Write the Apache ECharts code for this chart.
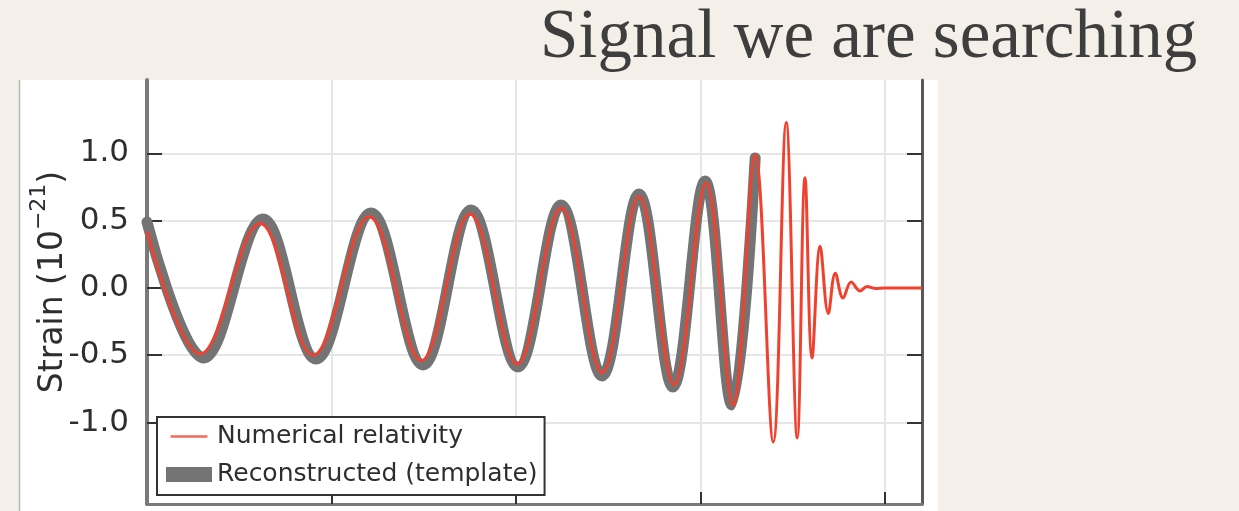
<!DOCTYPE html>
<html>
<head>
<meta charset="utf-8">
<script src="https://cdn.jsdelivr.net/npm/echarts@6/dist/echarts.min.js"></script>
<style>
html,body{margin:0;padding:0;background:#f4f0e9;}
#chart{width:1239px;height:511px;}
</style>
</head>
<body>
<div id="chart"></div>
<script>
// Turning points of the waveforms: time (s), strain (1e-21)
const nrTime = [0.2500, 0.2644, 0.2806, 0.2950, 0.3102, 0.3243, 0.3375, 0.3503, 0.3622, 0.3733,
  0.3833, 0.3928, 0.4015, 0.4088, 0.4148, 0.4197, 0.4232, 0.4262, 0.4283, 0.4302,
  0.4324, 0.4346, 0.4365, 0.4386, 0.4408, 0.4432, 0.4451, 0.4473, 0.4500, 0.4600];
const nrStrain = [0.42, -0.49, 0.48, -0.50, 0.53, -0.54, 0.55, -0.565, 0.595, -0.63,
  0.68, -0.72, 0.78, -0.87, 0.99, -1.145, 1.23, -1.115, 0.82, -0.52,
  0.31, -0.19, 0.11, -0.075, 0.045, -0.022, 0.011, -0.004, 0, 0];

const tplTime = [0.2500, 0.2654, 0.2814, 0.2958, 0.3107, 0.3248, 0.3378, 0.3505, 0.3622, 0.3733,
  0.3833, 0.3925, 0.4012, 0.4085, 0.4148];
const tplStrain = [0.49, -0.52, 0.513, -0.528, 0.558, -0.572, 0.58, -0.587, 0.617, -0.654,
  0.699, -0.736, 0.796, -0.87, 0.967];

const yTicks = [-1.0, -0.5, 0.0, 0.5, 1.0];
const xTicks = [0.30, 0.35, 0.40, 0.45];
const seriesNames = ['Numerical relativity', 'Reconstructed (template)'];

const zip = (a, b) => a.map((t, i) => [t, b[i]]);

const chart = echarts.init(document.getElementById('chart'));
chart.setOption({
  backgroundColor: '#f4f0e9',
  animation: false,
  title: {
    text: 'Signal we are searching',
    left: 535, top: -1,
    textStyle: {fontFamily: 'Liberation Serif', fontSize: 69, fontWeight: 'normal', color: '#3e3e3e'}
  },
  graphic: [
    {type: 'rect', z: -10, silent: true, shape: {x: 20, y: 80, width: 918, height: 431}, style: {fill: '#ffffff'}},
    {type: 'line', z: -9, silent: true, shape: {x1: 19.5, y1: 80, x2: 19.5, y2: 511}, style: {stroke: '#b8b8b8', lineWidth: 1.5}}
  ],
  grid: {left: 147, right: 317, top: 80, bottom: 7, containLabel: false},
  legend: {
    orient: 'vertical',
    left: 157, top: 417,
    padding: [7, 7, 8, 9],
    itemGap: 13,
    itemWidth: 46, itemHeight: 15,
    backgroundColor: '#ffffff',
    borderColor: '#333333', borderWidth: 2, borderRadius: 0,
    textStyle: {fontFamily: 'DejaVu Sans', fontSize: 25, color: '#2e2e2e'},
    data: [
      {name: seriesNames[0], icon: 'path://M0,0M4.5,6.2h37v2.6h-37zM46,15', itemStyle: {color: '#f46a59'}},
      {name: seriesNames[1], icon: 'rect'}
    ]
  },
  xAxis: {
    type: 'value', min: 0.25, max: 0.46,
    axisLine: {show: true, onZero: false, lineStyle: {color: '#7a7a7a', width: 3}},
    axisTick: {show: true, inside: true, length: 12, customValues: xTicks, lineStyle: {color: '#333', width: 2}},
    axisLabel: {show: false, customValues: xTicks},
    splitLine: {show: true, lineStyle: {color: '#e6e6e6', width: 2}}
  },
  yAxis: [
    {
      type: 'value', min: -1.606, max: 1.546, position: 'left',
      name: '{a|Strain (10}{s|−21}{a|)}',
      nameLocation: 'middle', nameRotate: 90, nameGap: 77,
      nameMoveOverlap: false,
      nameTextStyle: {
        padding: [0, 0, 0, 20],
        rich: {
          a: {fontFamily: 'DejaVu Sans', fontSize: 33, color: '#2e2e2e', lineHeight: 42, verticalAlign: 'bottom'},
          s: {fontFamily: 'DejaVu Sans', fontSize: 22, color: '#2e2e2e', lineHeight: 42, verticalAlign: 'top'}
        }
      },
      axisLine: {show: true, onZero: false, lineStyle: {color: '#7a7a7a', width: 4}},
      axisTick: {show: true, inside: true, length: 15, customValues: yTicks, lineStyle: {color: '#333', width: 2}},
      axisLabel: {
        customValues: yTicks, margin: 18,
        fontFamily: 'DejaVu Sans', fontSize: 31, color: '#2e2e2e',
        formatter: v => v.toFixed(1)
      },
      splitLine: {show: true, lineStyle: {color: '#e6e6e6', width: 2}}
    },
    {
      type: 'value', min: -1.606, max: 1.546, position: 'right',
      axisLine: {show: true, onZero: false, lineStyle: {color: '#5a5a5a', width: 3}},
      axisTick: {show: true, inside: true, length: 15, customValues: yTicks, lineStyle: {color: '#333', width: 2}},
      axisLabel: {show: false},
      splitLine: {show: false}
    }
  ],
  series: [
    {
      name: seriesNames[1], type: 'line', z: 2,
      data: zip(tplTime, tplStrain),
      smooth: 0.38, symbol: 'none', clip: true,
      itemStyle: {color: '#747474'},
      lineStyle: {color: '#747474', width: 11, cap: 'round'}
    },
    {
      name: seriesNames[0], type: 'line', z: 3,
      data: zip(nrTime, nrStrain),
      smooth: 0.38, symbol: 'none', clip: true,
      itemStyle: {color: '#f0412f'},
      lineStyle: {color: '#f0412f', width: 3}
    }
  ]
});
</script>
</body>
</html>
